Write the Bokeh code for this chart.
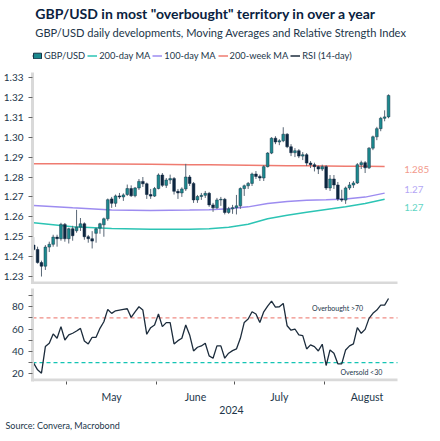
import pandas as pd
from bokeh.plotting import figure
from bokeh.models import (Range1d, FixedTicker, LinearAxis, Label, Title,
                          Legend, LegendItem, ColumnDataSource)
from bokeh.layouts import column
from bokeh.embed import file_html
from bokeh.resources import INLINE

FONT = "Lato"

# ---------------- data ----------------
dates = pd.bdate_range("2024-04-18", "2024-08-23")
month_names = ["May", "June", "July", "August"]

open_ = [1.2458, 1.2436, 1.2370, 1.2352, 1.2448, 1.2462, 1.2498, 1.2490, 1.2562, 1.2490,
         1.2540, 1.2530, 1.2548, 1.2565, 1.2500, 1.2490, 1.2517, 1.2543, 1.2560, 1.2590,
         1.2690, 1.2668, 1.2705, 1.2700, 1.2712, 1.2742, 1.2706, 1.2745, 1.2778, 1.2766,
         1.2712, 1.2704, 1.2742, 1.2810, 1.2758, 1.2785, 1.2792, 1.2728, 1.2720, 1.2740,
         1.2800, 1.2768, 1.2685, 1.2702, 1.2708, 1.2718, 1.2660, 1.2645, 1.2685, 1.2688,
         1.2622, 1.2640, 1.2646, 1.2655, 1.2742, 1.2756, 1.2768, 1.2815, 1.2803, 1.2795,
         1.2852, 1.2920, 1.2995, 1.2976, 1.2982, 1.3015, 1.2952, 1.2922, 1.2932, 1.2905,
         1.2912, 1.2870, 1.2862, 1.2852, 1.2840, 1.2852, 1.2745, 1.2790, 1.2760, 1.2690,
         1.2684, 1.2745, 1.2760, 1.2770, 1.2862, 1.2872, 1.2846, 1.2945, 1.3002, 1.3043,
         1.3095, 1.3102]
high = [1.2498, 1.2450, 1.2380, 1.2458, 1.2475, 1.2510, 1.2510, 1.2570, 1.2569, 1.2545,
        1.2555, 1.2635, 1.2594, 1.2572, 1.2509, 1.2528, 1.2545, 1.2570, 1.2596, 1.2692,
        1.2700, 1.2712, 1.2720, 1.2718, 1.2762, 1.2758, 1.2750, 1.2790, 1.2800, 1.2772,
        1.2740, 1.2750, 1.2818, 1.2820, 1.2795, 1.2812, 1.2800, 1.2740, 1.2748, 1.2866,
        1.2810, 1.2775, 1.2710, 1.2720, 1.2730, 1.2725, 1.2670, 1.2695, 1.2700, 1.2695,
        1.2650, 1.2660, 1.2710, 1.2748, 1.2762, 1.2775, 1.2822, 1.2830, 1.2812, 1.2860,
        1.2925, 1.3000, 1.3005, 1.2990, 1.3050, 1.3020, 1.2965, 1.2945, 1.2940, 1.2925,
        1.2920, 1.2880, 1.2872, 1.2858, 1.2862, 1.2860, 1.2810, 1.2810, 1.2775, 1.2736,
        1.2752, 1.2775, 1.2780, 1.2870, 1.2882, 1.2880, 1.2950, 1.3008, 1.3052, 1.3102,
        1.3135, 1.3215]
low = [1.2428, 1.2365, 1.2300, 1.2333, 1.2423, 1.2450, 1.2450, 1.2480, 1.2475, 1.2466,
       1.2480, 1.2520, 1.2529, 1.2485, 1.2470, 1.2441, 1.2470, 1.2515, 1.2500, 1.2580,
       1.2645, 1.2650, 1.2690, 1.2680, 1.2705, 1.2700, 1.2698, 1.2735, 1.2750, 1.2690,
       1.2690, 1.2700, 1.2738, 1.2750, 1.2745, 1.2765, 1.2712, 1.2690, 1.2700, 1.2730,
       1.2755, 1.2670, 1.2670, 1.2685, 1.2695, 1.2650, 1.2625, 1.2640, 1.2655, 1.2612,
       1.2615, 1.2615, 1.2612, 1.2640, 1.2705, 1.2740, 1.2755, 1.2790, 1.2780, 1.2780,
       1.2848, 1.2915, 1.2965, 1.2960, 1.2975, 1.2945, 1.2905, 1.2900, 1.2895, 1.2885,
       1.2855, 1.2845, 1.2828, 1.2815, 1.2830, 1.2735, 1.2730, 1.2740, 1.2680, 1.2675,
       1.2665, 1.2735, 1.2745, 1.2765, 1.2840, 1.2820, 1.2840, 1.2935, 1.2985, 1.3030,
       1.3080, 1.3095]
close = [1.2436, 1.2370, 1.2352, 1.2448, 1.2462, 1.2498, 1.2490, 1.2562, 1.2490, 1.2540,
         1.2505, 1.2548, 1.2565, 1.2500, 1.2490, 1.2478, 1.2540, 1.2565, 1.2590, 1.2686,
         1.2668, 1.2705, 1.2700, 1.2710, 1.2742, 1.2706, 1.2745, 1.2778, 1.2766, 1.2712,
         1.2704, 1.2742, 1.2810, 1.2758, 1.2785, 1.2792, 1.2728, 1.2720, 1.2740, 1.2800,
         1.2768, 1.2685, 1.2702, 1.2708, 1.2718, 1.2660, 1.2645, 1.2685, 1.2688, 1.2622,
         1.2640, 1.2646, 1.2655, 1.2742, 1.2756, 1.2768, 1.2815, 1.2803, 1.2795, 1.2852,
         1.2920, 1.2995, 1.2976, 1.2982, 1.3015, 1.2952, 1.2922, 1.2932, 1.2905, 1.2912,
         1.2870, 1.2862, 1.2852, 1.2840, 1.2852, 1.2745, 1.2790, 1.2760, 1.2690, 1.2684,
         1.2745, 1.2760, 1.2770, 1.2862, 1.2872, 1.2846, 1.2945, 1.3002, 1.3043, 1.3095,
         1.3102, 1.3210]

# moving averages, read at selected trading days (index into dates)
ma_days = [0, 10, 20, 30, 40, 45, 50, 55, 60, 65, 70, 75, 80, 85, 90]
ma200d = [1.2570, 1.2550, 1.2541, 1.2537, 1.2537, 1.2540, 1.2548, 1.2563, 1.2590,
          1.2608, 1.2623, 1.2637, 1.2651, 1.2667, 1.2688]
ma100d = [1.2657, 1.2645, 1.2634, 1.2632, 1.2634, 1.2636, 1.2640, 1.2650, 1.2667,
          1.2677, 1.2683, 1.2686, 1.2690, 1.2699, 1.2719]
ma200w = [1.2867, 1.2866, 1.2865, 1.2864, 1.2862, 1.2861, 1.2860, 1.2859, 1.2858,
          1.2857, 1.2856, 1.2855, 1.2854, 1.2854, 1.2853]

rsi = [29.6, 23.6, 20.6, 44.4, 47.4, 55.7, 51.8, 62.2, 50.3, 54.8,
       56.3, 58.3, 60.7, 49.4, 46.8, 52.7, 52.7, 60.7, 66.6, 77.6,
       74.1, 76.4, 77.0, 77.6, 78.2, 70.5, 75.5, 80.0, 77.0, 55.4,
       61.3, 63.7, 73.5, 62.2, 65.8, 65.8, 46.8, 49.7, 51.8, 63.7,
       54.8, 40.5, 43.8, 45.0, 47.4, 36.1, 34.0, 45.0, 45.0, 34.0,
       38.5, 40.8, 42.3, 51.8, 66.0, 69.0, 75.5, 73.5, 66.0, 75.5,
       80.6, 85.0, 79.7, 80.0, 83.0, 63.0, 59.0, 60.1, 54.8, 54.2,
       42.3, 45.9, 44.4, 40.5, 46.5, 27.5, 41.4, 38.5, 29.0, 29.0,
       41.4, 45.0, 46.8, 61.3, 56.3, 59.8, 69.6, 74.1, 77.0, 81.5,
       81.5, 87.4]

price_ticks = [1.23, 1.24, 1.25, 1.26, 1.27, 1.28, 1.29, 1.30, 1.31, 1.32, 1.33]
rsi_ticks = [20, 30, 40, 50, 60, 70, 80, 90]
rsi_labels = [20, 40, 60, 80]
overbought, oversold = 70, 30

title_text = 'GBP/USD in most "overbought" territory in over a year'
subtitle_text = "GBP/USD daily developments, Moving Averages and Relative Strength Index"
source_text = "Source: Convera, Macrobond"

# ---------------- derived positions ----------------
x = list(range(len(dates)))
months = dates.month
boundaries = [i - 0.5 for i in range(1, len(dates)) if months[i] != months[i - 1]]
full_days = list(pd.bdate_range("2024-04-01", "2024-08-31"))
off = full_days.index(dates[0])
centers = []
for m in [5, 6, 7, 8]:
    idx = [i for i, d in enumerate(full_days) if d.month == m]
    centers.append((idx[0] + idx[-1]) / 2 - off)

inc = [c >= o for o, c in zip(open_, close)]
src_all = ColumnDataSource(dict(x=x, high=high, low=low))
src_inc = ColumnDataSource(dict(x=[xi for xi, f in zip(x, inc) if f],
                                top=[c for c, f in zip(close, inc) if f],
                                bottom=[o for o, f in zip(open_, inc) if f]))
src_dec = ColumnDataSource(dict(x=[xi for xi, f in zip(x, inc) if not f],
                                top=[o for o, f in zip(open_, inc) if not f],
                                bottom=[c for c, f in zip(close, inc) if not f]))

# ---------------- styles ----------------
C_TITLE = "#0a2240"
C_TEXT = "#22364a"
C_UP = "#1b8a8f"
C_DOWN = "#0e2740"
C_WICK = "#5a6877"
C_200D = "#2cc4b4"
C_100D = "#9d8cf0"
C_200W = "#ef7b70"
C_RSI = "#1c2c3c"
C_AXIS = "#d9d9d9"
W = 428
BL = 30
FW = 365                       # width of the dated part of each panel
FW1 = W - BL                   # frames run on to the right edge (end-value labels)
X0, X1 = -0.3, 93.3
X1_FULL = X0 + (X1 - X0) * FW1 / FW
Y0_TOP, Y1_TOP = 1.226, 1.3325
Y0_BOT, Y1_BOT = 13.2, 96.3


def style_axes(p):
    p.grid.visible = False
    p.outline_line_color = None
    for ax in p.yaxis:
        ax.axis_line_color = C_AXIS
        ax.axis_line_width = 3
        ax.major_tick_line_color = "#666666"
        ax.major_tick_out = 4
        ax.major_tick_in = 0
        ax.minor_tick_line_color = None
        ax.major_label_text_font = FONT
        ax.major_label_text_font_size = "10px"
        ax.major_label_text_color = C_TEXT
        ax.major_label_standoff = 5


# ---------------- header: title, subtitle, legend ----------------
HH = 61
hdr = figure(width=W, height=HH, x_range=Range1d(0, W), y_range=Range1d(0, HH),
             output_backend="svg", toolbar_location=None, min_border=0,
             x_axis_type=None, y_axis_type=None)
hdr.grid.visible = False
hdr.outline_line_color = None
hdr.add_layout(Label(x=3, y=HH - 13, text=title_text,
                     text_font=FONT, text_font_size="14px", text_font_style="bold",
                     text_color=C_TITLE, text_baseline="middle"))
hdr.add_layout(Label(x=3, y=HH - 32, text=subtitle_text,
                     text_font=FONT, text_font_size="11.1px", text_color=C_TEXT,
                     text_baseline="middle"))
h_wick = hdr.segment(x0=[-10], y0=[-10], x1=[-10], y1=[-9], line_color=C_DOWN, line_width=1)
h_body = hdr.vbar(x=[-10], width=1, top=[-9], bottom=[-10], fill_color=C_UP, line_color="#173449")
h_200d = hdr.line([-10, -9], [-10, -10], line_color=C_200D, line_width=1.5)
h_100d = hdr.line([-10, -9], [-10, -10], line_color=C_100D, line_width=1.5)
h_200w = hdr.line([-10, -9], [-10, -10], line_color=C_200W, line_width=1.5)
h_rsi = hdr.line([-10, -9], [-10, -10], line_color=C_RSI, line_width=1.5)
legend = Legend(items=[LegendItem(label="GBP/USD", renderers=[h_wick, h_body]),
                       LegendItem(label="200-day MA", renderers=[h_200d]),
                       LegendItem(label="100-day MA", renderers=[h_100d]),
                       LegendItem(label="200-week MA", renderers=[h_200w]),
                       LegendItem(label="RSI (14-day)", renderers=[h_rsi])],
                orientation="horizontal", location="bottom_left",
                label_text_font=FONT, label_text_font_size="9.3px", label_text_color=C_TEXT,
                glyph_width=10, glyph_height=7, label_standoff=2, spacing=2,
                padding=0, margin=0, border_line_color=None, background_fill_alpha=0,
                label_height=12)
hdr.add_layout(legend, "center")

# ---------------- top panel ----------------
p1 = figure(frame_width=FW1, frame_height=212, x_range=Range1d(X0, X1_FULL),
            y_range=Range1d(Y0_TOP, Y1_TOP),
            output_backend="svg", toolbar_location=None, min_border_left=BL,
            min_border_right=0, min_border_top=11, min_border_bottom=0)
style_axes(p1)
p1.xaxis.visible = False
p1.yaxis.ticker = FixedTicker(ticks=price_ticks)
p1.yaxis.major_label_overrides = {t: f"{t:.2f}" for t in price_ticks}
# bottom rule of the price panel, ending where the date axis ends
p1.line([X0, X1], [Y0_TOP + 0.0007] * 2, line_color=C_AXIS, line_width=3)

p1.line(ma_days, ma200w, line_color=C_200W, line_width=1.5)
p1.line(ma_days, ma100d, line_color=C_100D, line_width=1.5)
p1.line(ma_days, ma200d, line_color=C_200D, line_width=1.5)
p1.segment(x0="x", y0="low", x1="x", y1="high", source=src_all, line_color=C_WICK, line_width=1)
p1.vbar(x="x", width=0.7, top="top", bottom="bottom", source=src_inc,
        fill_color=C_UP, line_color="#173449", line_width=0.5)
p1.vbar(x="x", width=0.7, top="top", bottom="bottom", source=src_dec,
        fill_color=C_DOWN, line_color=C_DOWN, line_width=0.5)

for val, col, dy, fmt in [(ma200w[-1], "#f29a8c", -3, "{:.3f}"),
                          (ma100d[-1], "#b3a6f5", 4, "{:.2f}"),
                          (ma200d[-1], "#5fd5c4", -8, "{:.2f}")]:
    p1.add_layout(Label(x=95.0, y=val, text=fmt.format(val), text_color=col, text_font=FONT,
                        text_font_size="9.8px", text_baseline="middle", y_offset=dy))

# ---------------- bottom panel ----------------
p2 = figure(frame_width=FW1, frame_height=93, x_range=Range1d(X0, X1_FULL),
            y_range=Range1d(Y0_BOT, Y1_BOT),
            output_backend="svg", toolbar_location=None, min_border_left=BL,
            min_border_right=0, min_border_top=4, min_border_bottom=0)
style_axes(p2)
p2.yaxis.ticker = FixedTicker(ticks=rsi_ticks)
p2.yaxis.major_label_overrides = {t: (str(t) if t in rsi_labels else "") for t in rsi_ticks}

p2.line([X0, X1], [overbought, overbought], line_color="#f08c84", line_dash="4 3", line_width=1.2)
p2.line([X0, X1], [oversold, oversold], line_color="#14c4b4", line_dash="4 3", line_width=1.2)
p2.line([X0, X1], [Y0_BOT + 1.3] * 2, line_color=C_AXIS, line_width=3)
p2.line(x, rsi, line_color=C_RSI, line_width=1.3)
p2.add_layout(Label(x=84.5, y=79, text=f"Overbought >{overbought}", text_align="right",
                    text_baseline="middle", text_font=FONT, text_font_size="7px", text_color=C_TEXT))
p2.add_layout(Label(x=89.4, y=21.5, text=f"Oversold <{oversold}", text_align="right",
                    text_baseline="middle", text_font=FONT, text_font_size="7px", text_color=C_TEXT))

ax = p2.xaxis[0]
ax.ticker = FixedTicker(ticks=boundaries)
ax.major_label_overrides = {b: "" for b in boundaries}
ax.major_label_text_font_size = "1px"
ax.major_label_standoff = 0
ax.major_tick_line_color = "#555555"
ax.major_tick_out = 3
ax.major_tick_in = 0
ax.minor_tick_line_color = None
ax.axis_line_color = None

ax2 = LinearAxis(ticker=FixedTicker(ticks=centers),
                 major_label_overrides={c: n for c, n in zip(centers, month_names)},
                 axis_line_color=None, major_tick_line_color=None, minor_tick_line_color=None,
                 major_label_text_font=FONT, major_label_text_font_size="10.5px",
                 major_label_text_color=C_TEXT, major_label_standoff=0,
                 axis_label="2024", axis_label_text_font=FONT, axis_label_text_font_size="10.5px",
                 axis_label_text_font_style="normal", axis_label_text_color=C_TEXT,
                 axis_label_standoff=0)
p2.add_layout(ax2, "below")
p2.add_layout(Title(text=source_text, text_font=FONT, text_font_size="9px",
                    text_font_style="normal", text_color=C_TEXT, align="left",
                    standoff=3, offset=-(BL - 3)), "below")

layout = column(hdr, p1, p2, spacing=0)
open("out.html", "w").write(file_html(layout, INLINE))
